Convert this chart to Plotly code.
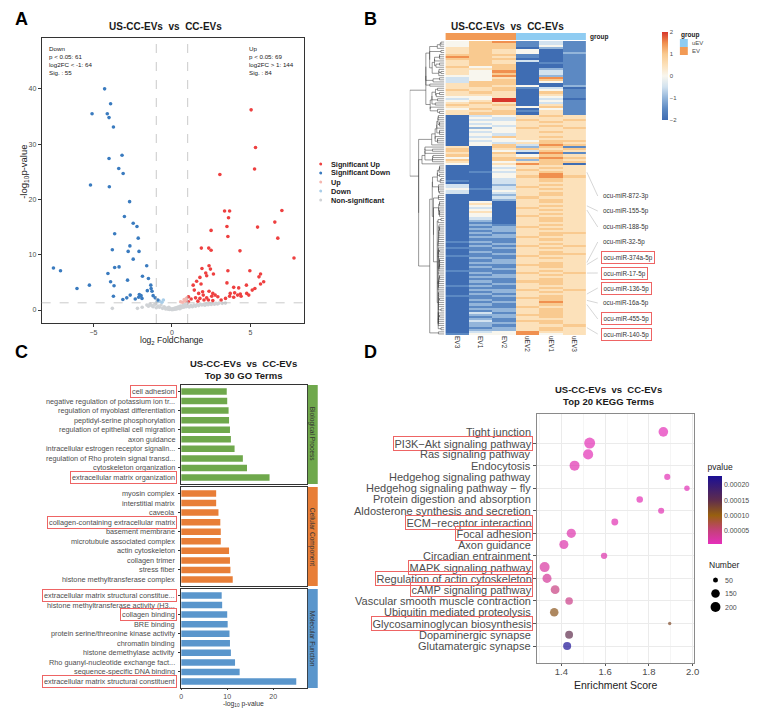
import numpy as np
import plotly.graph_objects as go

# the page body keeps an 8px margin, so the figure is drawn 8px smaller and every
# position below is given in window pixels
OFF = 8
W, H = 769 - OFF, 714 - OFF
FONT = "Liberation Sans"
GRAY = "#4D4D4D"
RED_BOX = "#EE6464"


def px(x):
    return (x - OFF) / W


def py(y):
    return 1 - (y - OFF) / H


# ---------------- A: volcano data (log2FC, -log10 p) ----------------
sig_down = [(-4.29, 40.0), (-3.91, 37.3), (-5.09, 35.5), (-4.12, 35.5), (-4.01, 34.8), (-3.73, 33.1),
            (-3.18, 28.0), (-4.01, 27.4), (-3.39, 25.6), (-3.11, 24.7), (-5.19, 22.6), (-3.99, 22.3),
            (-2.70, 19.6), (-3.03, 16.9), (-2.47, 15.7), (-2.23, 15.1), (-3.65, 13.8), (-2.15, 13.0),
            (-2.68, 11.6), (-3.80, 10.9), (-2.79, 10.6), (-2.10, 10.6), (-2.47, 9.2), (-7.55, 7.6),
            (-7.10, 7.1), (-3.37, 7.8), (-3.65, 7.7), (-1.61, 8.0), (-4.08, 6.6), (-1.88, 6.1),
            (-1.50, 5.7), (-2.83, 5.4), (-3.91, 5.1), (-3.69, 4.4), (-1.35, 4.5), (-5.26, 4.5),
            (-6.05, 3.9), (-1.33, 3.9), (-1.57, 3.5), (-1.27, 3.4), (-3.73, 2.5), (-2.66, 2.7),
            (-2.88, 2.2), (-3.13, 1.9), (-2.08, 2.8), (-1.97, 2.6), (-2.12, 2.3), (-1.91, 2.1),
            (-2.34, 2.0), (-1.20, 2.6), (-1.07, 2.2), (-0.90, 1.8)]
sig_up = [(5.04, 36.2), (5.32, 29.4), (5.26, 25.5), (3.05, 24.5), (3.35, 17.9), (3.67, 17.9), (7.0, 18.0),
          (3.60, 16.7), (6.55, 15.9), (3.50, 15.1), (5.45, 15.0), (2.49, 14.4), (3.56, 13.3), (6.74, 13.0),
          (1.87, 11.2), (2.34, 11.2), (2.49, 10.8), (4.33, 10.7), (7.77, 9.4), (1.91, 7.5), (2.36, 8.0),
          (2.45, 7.4), (3.56, 7.1), (4.96, 7.1), (2.15, 6.7), (2.64, 6.5), (1.78, 5.9), (1.57, 5.2),
          (1.85, 4.7), (1.35, 4.5), (2.21, 6.2), (5.64, 6.5), (5.54, 6.0), (3.50, 4.9), (4.74, 4.5),
          (5.84, 5.1), (5.64, 4.7), (5.28, 3.9), (5.11, 3.6), (3.93, 4.1), (4.25, 4.0), (1.42, 3.6),
          (1.95, 3.3), (2.36, 3.4), (2.60, 3.0), (1.70, 3.0), (1.99, 2.7), (2.53, 2.5), (2.75, 2.7),
          (3.71, 3.0), (3.99, 3.1), (4.18, 2.7), (4.35, 2.9), (3.67, 2.5), (3.93, 2.3), (4.40, 2.5),
          (2.92, 2.4), (1.50, 2.2), (1.78, 2.1), (2.21, 2.2), (2.04, 1.8), (2.32, 1.8), (1.65, 1.6),
          (2.60, 1.7), (3.13, 1.8), (3.41, 2.1), (4.76, 3.0), (4.89, 2.7), (1.05, 2.4), (1.05, 1.5),
          (1.22, 2.0)]
up_only = [(0.67, 1.4), (0.86, 1.6), (0.78, 1.9), (0.92, 2.1), (0.55, 1.5)]
down_only = [(-0.64, 1.4), (-0.80, 1.6), (-0.55, 1.8), (-0.95, 1.5)]
non_sig = [(-3.8, 0.3), (-2.2, 0.3), (-1.9, 0.5), (-1.6, 0.9), (-1.5, 0.7), (-1.4, 1.1), (-1.3, 0.8),
           (-1.2, 0.6), (-1.1, 1.0), (-1.0, 0.4), (-0.9, 0.7), (-0.8, 0.5), (-0.7, 0.9), (-0.6, 0.3),
           (-0.5, 0.6), (-0.45, 0.4), (-0.4, 0.2), (-0.3, 0.35), (-0.25, 0.15), (-0.2, 0.5), (-0.15, 0.1),
           (-0.1, 0.25), (0.0, 0.05), (0.05, 0.2), (0.1, 0.1), (0.15, 0.3), (0.2, 0.15), (0.25, 0.4),
           (0.3, 0.2), (0.35, 0.5), (0.4, 0.3), (0.45, 0.6), (0.5, 0.25), (0.55, 0.7), (0.6, 0.4),
           (0.7, 0.8), (0.75, 0.5), (0.8, 1.0), (0.9, 0.6), (0.95, 0.9), (1.0, 0.7), (1.1, 0.55),
           (1.2, 0.8), (1.3, 0.6), (1.4, 0.9), (1.5, 0.7), (1.6, 1.0), (1.7, 0.8), (1.8, 1.1), (1.9, 0.9),
           (2.0, 1.0), (2.1, 0.85), (2.2, 1.1), (2.3, 0.95), (2.4, 1.15), (2.5, 1.0), (2.6, 1.2),
           (2.7, 1.05), (2.8, 1.2), (2.9, 1.1), (3.0, 1.25), (3.2, 1.2), (3.4, 1.25)]

# ---------------- B: heatmap (z-score codes 0..8 -> -2..2) ----------------
heat_cols = ["EV3", "EV1", "EV2", "uEV2", "uEV1", "uEV3"]
heat_rows = [
    "467131", "466131", "466141", "566021", "565401", "565402", "666101", "765101", "666001", "565301",
    "565011", "566001", "646001", "556021", "547031", "546031", "447021", "345071", "346061", "366041",
    "566001", "565402", "556130", "656041", "565061", "555051", "445041", "348030", "458041", "565031",
    "656051", "555461", "465041", "556151", "566051",
    "034565", "043555", "033656", "044565", "034555", "043565", "024656", "044555", "034565", "043555",
    "036565", "044555", "034466", "043565", "046376",
    "506261", "605656", "604365", "506071", "605465", "406676", "606265", "504566", "405760",
    "004555", "003565", "004655", "013565", "004575", "004676", "003565", "103565", "003555", "302565",
    "303655", "413565", "304555", "303565", "002565", "003655", "002565",
    "040565", "050555", "040565", "030655", "040565", "050555", "040565", "040655", "030565", "020565",
    "010555",
    "021565", "012655", "022565", "012555", "021566", "012565", "022655", "011565", "121555", "012565",
    "021656", "112565", "011555", "021565", "012566", "111655", "021565", "012555", "022565", "011665",
    "021565", "012555", "111565", "021656", "012565", "022555", "011565", "021665", "012565", "121555",
    "011565", "022656", "012565", "021555", "112565", "011665", "021565", "012575", "021565", "011655",
    "022565", "012565", "031565", "022665", "012565", "021555", "031665", "022565", "021556", "012565",
    "022565", "034755", "144745",
]
mir_labels = ["ocu-miR-872-3p", "ocu-miR-155-5p", "ocu-miR-188-5p", "ocu-miR-32-5p", "ocu-miR-374a-5p",
              "ocu-miR-17-5p", "ocu-miR-136-5p", "ocu-miR-16a-5p", "ocu-miR-455-5p", "ocu-miR-140-5p"]
mir_rows = [62, 78, 80, 105, 106, 110, 120, 123, 125, 136]
mir_boxed = [False, False, False, False, True, True, True, False, True, True]

# ---------------- C: GO terms ----------------
bp_terms = ["cell adhesion", "negative regulation of potassium ion tr...", "regulation of myoblast differentiation",
            "peptidyl-serine phosphorylation", "regulation of epithelial cell migration", "axon guidance",
            "intracellular estrogen receptor signalin...", "regulation of Rho protein signal transd...",
            "cytoskeleton organization", "extracellular matrix organization"]
bp_vals = [9.9, 10.0, 10.3, 10.4, 10.6, 10.8, 11.6, 13.4, 14.3, 19.2]
cc_terms = ["myosin complex", "interstitial matrix", "caveola", "collagen-containing extracellular matrix",
            "basement membrane", "microtubule associated complex", "actin cytoskeleton", "collagen trimer",
            "stress fiber", "histone methyltransferase complex"]
cc_vals = [7.6, 7.6, 8.1, 8.5, 8.6, 8.6, 10.4, 10.6, 10.7, 11.2]
mf_terms = ["extracellular matrix structural constitue...", "histone methyltransferase activity (H3...",
            "collagen binding", "BRE binding", "protein serine/threonine kinase activity", "chromatin binding",
            "histone demethylase activity", "Rho guanyl-nucleotide exchange fact...",
            "sequence-specific DNA binding", "extracellular matrix structural constituent"]
mf_vals = [8.8, 8.9, 10.0, 10.1, 10.5, 10.6, 10.8, 11.7, 12.7, 25.0]
go_boxed = {"cell adhesion", "extracellular matrix organization", "collagen-containing extracellular matrix",
            "extracellular matrix structural constitue...", "collagen binding",
            "extracellular matrix structural constituent"}

# ---------------- D: KEGG terms ----------------
kegg_terms = ["Tight junction", "PI3K−Akt signaling pathway", "Ras signaling pathway", "Endocytosis",
              "Hedgehog signaling pathway", "Hedgehog signaling pathway − fly", "Protein digestion and absorption",
              "Aldosterone synthesis and secretion", "ECM−receptor interaction", "Focal adhesion", "Axon guidance",
              "Circadian entrainment", "MAPK signaling pathway", "Regulation of actin cytoskeleton",
              "cAMP signaling pathway", "Vascular smooth muscle contraction", "Ubiquitin mediated proteolysis",
              "Glycosaminoglycan biosynthesis", "Dopaminergic synapse", "Glutamatergic synapse"]
kegg_score = [1.866, 1.529, 1.522, 1.460, 1.884, 1.974, 1.758, 1.856, 1.644, 1.445, 1.411, 1.595,
              1.323, 1.334, 1.371, 1.435, 1.367, 1.895, 1.435, 1.426]
kegg_number = [185, 240, 205, 200, 75, 60, 85, 75, 95, 170, 165, 80, 200, 165, 155, 115, 145, 22, 125, 130]
kegg_pvalue = [0.000006, 0.000008, 0.000008, 0.000012, 0.000008, 0.000007, 0.000008, 0.000010, 0.000010,
               0.000014, 0.000015, 0.000015, 0.000022, 0.000028, 0.000045, 0.000040, 0.000110, 0.000120,
               0.000150, 0.000230]
kegg_boxed = {"PI3K−Akt signaling pathway", "ECM−receptor interaction", "Focal adhesion", "MAPK signaling pathway",
              "Regulation of actin cytoskeleton", "cAMP signaling pathway", "Glycosaminoglycan biosynthesis"}

fig = go.Figure()
shapes = []
ann = []


def text(x, y, s, size=8, color="#1A1A1A", xanchor="center", yanchor="middle", **kw):
    ann.append(dict(x=px(x), y=py(y), xref="paper", yref="paper", text=s, showarrow=False,
                    xanchor=xanchor, yanchor=yanchor, font=dict(family=FONT, size=size, color=color), **kw))


# ===== Panel A =====
groups_a = [("Non-significant", non_sig, "#D0D3D6"), ("Down", down_only, "#A9CDE8"),
            ("Up", up_only, "#F5B7B0"), ("Significant Down", sig_down, "#3A7BBF"),
            ("Significant Up", sig_up, "#EE4040")]
for name, pts, col in groups_a:
    fig.add_trace(go.Scatter(x=[p[0] for p in pts], y=[p[1] for p in pts], mode="markers", name=name,
                             marker=dict(size=3.6, color=col), showlegend=False, xaxis="x", yaxis="y"))
for xv in (-1, 1):
    shapes.append(dict(type="line", xref="x", yref="y domain", x0=xv, x1=xv, y0=0, y1=1,
                       line=dict(color="#BDBDBD", width=0.8, dash="dash")))
shapes.append(dict(type="line", xref="x domain", yref="y", x0=0, x1=1, y0=-np.log10(0.05), y1=-np.log10(0.05),
                   line=dict(color="#BDBDBD", width=0.8, dash="dash")))
text(165, 27, "<b>US-CC-EVs  vs  CC-EVs</b>", size=10)
text(45, 43, "Down<br>p < 0.05: 61<br>log2FC < -1: 64<br>Sig. : 55", size=6.2, xanchor="left", yanchor="top",
     align="left")
text(248, 43, "Up<br>p < 0.05: 69<br>log2FC > 1: 144<br>Sig. : 84", size=6.2, xanchor="left", yanchor="top",
     align="left")
text(22, 172, "-log<sub>10</sub>p-value", size=9.5, color="#222", textangle=-90)
text(172, 341, "log<sub>2</sub> FoldChange", size=8.5, color="#222")
for i, (name, _, col) in enumerate(reversed(groups_a)):
    yy = 164 + 9 * i
    shapes.append(dict(type="circle", xref="paper", yref="paper", x0=px(320.5), x1=px(323.5),
                       y0=py(yy + 1.5), y1=py(yy - 1.5), fillcolor=col, line=dict(width=0)))
    text(330, yy, "<b>" + name + "</b>", size=7.3, color="#222", xanchor="left")

# ===== Panel B =====
N = len(heat_rows)
Z = np.array([[int(c) for c in r] for r in heat_rows], dtype=float) * 0.5 - 2
heat_scale = [[0, "#3F6DB3"], [0.125, "#5C89C3"], [0.25, "#93B5DA"], [0.375, "#D2E2EF"], [0.5, "#F8F6EE"],
              [0.625, "#FCE1BA"], [0.75, "#F9CA90"], [0.875, "#F0904F"], [1, "#D7362B"]]
fig.add_trace(go.Heatmap(z=Z, x=heat_cols, y=list(range(N)), colorscale=heat_scale, zmin=-2, zmax=2,
                         xaxis="x2", yaxis="y2",
                         colorbar=dict(x=px(667), xanchor="left", y=py(32), yanchor="top", len=88,
                                       lenmode="pixels", thickness=6, outlinewidth=0, ticks="", xpad=0, ypad=0,
                                       tickvals=[-2, -1, 0, 1, 2],
                                       tickfont=dict(family=FONT, size=6, color=GRAY))))
fig.add_trace(go.Heatmap(z=[[0, 0, 0, 1, 1, 1]], x=heat_cols, y=["group"], zmin=0, zmax=1, showscale=False,
                         colorscale=[[0, "#F29A55"], [0.5, "#F29A55"], [0.5, "#8FCCF2"], [1, "#8FCCF2"]],
                         xaxis="x3", yaxis="y3"))

# row dendrogram: average linkage, merging neighbouring clusters so leaves keep the heatmap order
dist = np.sqrt(((Z[:, None, :] - Z[None, :, :]) ** 2).sum(-1))
clusters = [(i, i + 1, float(i), 0.0) for i in range(N)]
dx, dy = [], []
while len(clusters) > 1:
    best = None
    for k in range(len(clusters) - 1):
        a, b = clusters[k], clusters[k + 1]
        d = dist[a[0]:a[1], b[0]:b[1]].mean()
        if best is None or d < best[0]:
            best = (d, k)
    d, k = best
    a, b = clusters[k], clusters[k + 1]
    h = max(d, a[3], b[3])
    dx += [a[3], h, h, b[3], None]
    dy += [a[2], a[2], b[2], b[2], None]
    clusters[k:k + 2] = [(a[0], b[1], (a[2] + b[2]) / 2, h)]
hmax = clusters[0][3]
fig.add_trace(go.Scatter(x=dx, y=dy, mode="lines", line=dict(color="#333", width=0.5), showlegend=False,
                         xaxis="x4", yaxis="y4", hoverinfo="skip"))

text(511, 26, "<b>US-CC-EVs  vs  CC-EVs</b>", size=10)
text(592, 37, "<b>group</b>", size=6.5, xanchor="left")
# group legend
text(684, 35, "<b>group</b>", size=6.5, xanchor="left")
for i, (lab, col) in enumerate([("uEV", "#8FCCF2"), ("EV", "#F29A55")]):
    shapes.append(dict(type="rect", xref="paper", yref="paper", x0=px(685), x1=px(693),
                       y0=py(47 + 8 * i), y1=py(39 + 8 * i), fillcolor=col, line=dict(width=0)))
    text(695, 43 + 8 * i, lab, size=6, color=GRAY, xanchor="left")

top_h, bot_h = 41, 335
label_y = [196, 211, 227, 242, 258, 273, 288, 303, 319, 334]
for lab, r, boxed, ly in zip(mir_labels, mir_rows, mir_boxed, label_y):
    ry = top_h + (r + 0.5) * (bot_h - top_h) / N
    shapes.append(dict(type="line", xref="paper", yref="paper", x0=px(591), y0=py(ry), x1=px(602), y1=py(ly),
                       line=dict(color="#BBBBBB", width=0.6)))
    extra = dict(bordercolor=RED_BOX, borderwidth=1, borderpad=1.5) if boxed else {}
    text(605, ly, lab, size=6.3, color="#333", xanchor="left", **extra)

# ===== Panel C =====
facets = [(bp_terms, bp_vals, "#6FA84C", "Biological Process", 385, 484, "5"),
          (cc_terms, cc_vals, "#E87E37", "Cellular Component", 487, 586, "6"),
          (mf_terms, mf_vals, "#5A96CC", "Molecular Function", 589, 688, "7")]
for terms, vals, col, strip, t, b, ax in facets:
    fig.add_trace(go.Bar(x=vals, y=terms, orientation="h", marker=dict(color=col, line=dict(width=0)),
                         width=0.68, showlegend=False, xaxis="x" + ax, yaxis="y" + ax))
    for i, term in enumerate(terms):
        extra = dict(bordercolor=RED_BOX, borderwidth=1, borderpad=1) if term in go_boxed else {}
        ann.append(dict(x=0, y=i, xref="x%s domain" % ax, yref="y" + ax, text=term, showarrow=False,
                        xanchor="right", yanchor="middle", xshift=-4,
                        font=dict(family=FONT, size=7.3, color=GRAY), **extra))
    shapes.append(dict(type="rect", xref="paper", yref="paper", x0=px(309), x1=px(319), y0=py(b), y1=py(t),
                       fillcolor=col, line=dict(width=0)))
    text(314, (t + b) / 2, strip, size=6.6, color="#333", textangle=90)
text(244, 369, "<b>US-CC-EVs  vs  CC-EVs<br>Top 30 GO Terms</b>", size=9.5)
text(244, 704, "-log<sub>10</sub> p-value", size=6.8, color="#333")

# ===== Panel D =====
SIZEREF = 4
d_scale = [[0, "#E52FBB"], [0.2, "#C4407A"], [0.42, "#98600F"], [0.65, "#5E2C4E"], [1, "#1B0F95"]]
fig.add_trace(go.Scatter(x=kegg_score, y=kegg_terms, mode="markers", showlegend=False, xaxis="x8", yaxis="y8",
                         marker=dict(size=kegg_number, sizemode="area", sizeref=SIZEREF, color=kegg_pvalue,
                                     cmin=0.000004, cmax=0.00023, colorscale=d_scale, line=dict(width=0),
                                     colorbar=dict(x=px(713), xanchor="left", y=py(461), yanchor="top",
                                                   len=83, lenmode="pixels", thickness=14, outlinewidth=0,
                                                   xpad=0, ypad=0, ticks="",
                                                   tickvals=[5e-5, 1e-4, 1.5e-4, 2e-4],
                                                   ticktext=["0.00005", "0.00010", "0.00015", "0.00020"],
                                                   tickfont=dict(family=FONT, size=7, color=GRAY),
                                                   title=dict(text="pvalue", side="top",
                                                              font=dict(family=FONT, size=8.5, color="#222"))))))
for i, term in enumerate(kegg_terms):
    extra = dict(bordercolor=RED_BOX, borderwidth=1, borderpad=0.5) if term in kegg_boxed else {}
    ann.append(dict(x=0, y=i, xref="x8 domain", yref="y8", text=term, showarrow=False, xanchor="right",
                    yanchor="middle", xshift=-4, font=dict(family=FONT, size=11, color=GRAY), **extra))
text(613, 395, "<b>US-CC-EVs  vs  CC-EVs<br>Top 20 KEGG Terms</b>", size=9.5)
text(620, 685, "Enrichment Score", size=10.5, color="#222")
text(712, 565, "Number", size=8.5, color="#222", xanchor="left")
for i, v in enumerate([50, 150, 200]):
    r = np.sqrt(2 * v / SIZEREF) / 2
    cy = 580 + 13.5 * i
    shapes.append(dict(type="circle", xref="paper", yref="paper", x0=px(721 - r), x1=px(721 + r),
                       y0=py(cy + r), y1=py(cy - r), fillcolor="black", line=dict(width=0)))
    text(729, cy, str(v), size=7, color=GRAY, xanchor="left")

# panel letters
for lab, x, y in [("A", 20, 19), ("B", 372, 19), ("C", 20, 352), ("D", 372, 352)]:
    text(x, y, "<b>%s</b>" % lab, size=18, color="black")

axis_base = dict(showgrid=False, zeroline=False)
frame = dict(showline=True, mirror=True, linecolor="#333", linewidth=0.8)
tickf = dict(family=FONT, size=7, color=GRAY)

layout = dict(
    width=W, height=H, margin=dict(l=0, r=0, t=0, b=0), paper_bgcolor="white", plot_bgcolor="white",
    font=dict(family=FONT), showlegend=False, bargap=0.3,
    xaxis=dict(domain=[px(40), px(305)], range=[-8.3, 8.4], tickvals=[-5, 0, 5], ticks="outside", ticklen=3,
               tickcolor="#333", tickfont=tickf, anchor="y", **axis_base, **frame),
    yaxis=dict(domain=[py(323), py(38)], range=[-2.35, 49.2], tickvals=[0, 10, 20, 30, 40], ticks="outside",
               ticklen=3, tickcolor="#333", tickfont=tickf, anchor="x", **axis_base, **frame),
    xaxis2=dict(domain=[px(448), px(590)], anchor="y2", tickangle=90, ticks="",
                tickfont=dict(family=FONT, size=6.5, color="#333"), **axis_base),
    yaxis2=dict(domain=[py(bot_h), py(top_h)], anchor="x2", range=[N - 0.5, -0.5], showticklabels=False,
                ticks="", **axis_base),
    xaxis3=dict(domain=[px(448), px(590)], anchor="y3", visible=False),
    yaxis3=dict(domain=[py(40), py(33)], anchor="x3", visible=False),
    xaxis4=dict(domain=[px(412), px(447)], anchor="y4", range=[hmax, 0], visible=False),
    yaxis4=dict(domain=[py(bot_h), py(top_h)], anchor="x4", range=[N - 0.5, -0.5], visible=False),
    xaxis8=dict(domain=[px(541), px(699)], anchor="y8", range=[1.29, 2.005], tickvals=[1.4, 1.6, 1.8, 2.0],
                ticktext=["1.4", "1.6", "1.8", "2.0"], ticks="outside", ticklen=2.5, tickcolor="#555",
                ticklabelstandoff=-3,
                tickfont=dict(family=FONT, size=9.5, color=GRAY), showgrid=True, gridcolor="#EBEBEB",
                gridwidth=0.8, minor=dict(tickvals=[1.3, 1.5, 1.7, 1.9], showgrid=True, gridcolor="#F5F5F5"),
                zeroline=False, showline=True, mirror=True, linecolor="#8A8A8A", linewidth=0.8),
    yaxis8=dict(domain=[py(663), py(414)], anchor="x8", autorange="reversed", showticklabels=False,
                ticks="outside", ticklen=3, tickcolor="#555", showgrid=True, gridcolor="#EBEBEB", gridwidth=0.8,
                zeroline=False, showline=True, mirror=True, linecolor="#8A8A8A", linewidth=0.8),
    shapes=shapes, annotations=ann,
)
for terms, vals, col, strip, t, b, ax in facets:
    last = ax == "7"
    layout["xaxis" + ax] = dict(domain=[px(181), px(308)], anchor="y" + ax, range=[0, 27.3],
                                tickvals=[0, 10, 20], showticklabels=last, ticks="outside" if last else "",
                                ticklen=1.5, tickcolor="#333", tickfont=dict(family=FONT, size=7, color=GRAY),
                                **axis_base, **frame)
    layout["yaxis" + ax] = dict(domain=[py(b), py(t)], anchor="x" + ax, autorange="reversed",
                                showticklabels=False, ticks="outside", ticklen=2, tickcolor="#333",
                                **axis_base, **frame)

fig.update_layout(**layout)
fig.write_html("out.html")
